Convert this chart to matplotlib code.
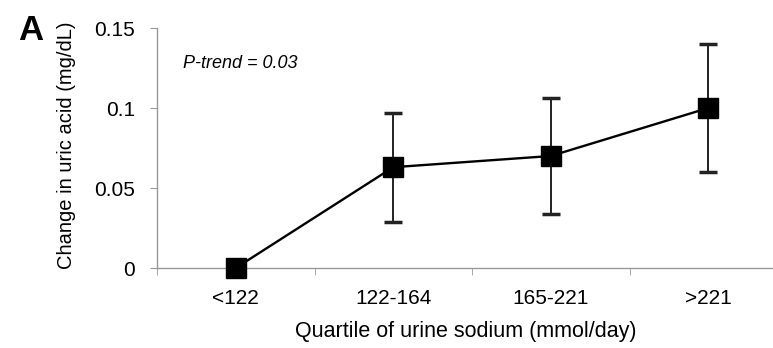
import matplotlib.pyplot as plt
import numpy as np

quartiles = ['<122', '122-164', '165-221', '>221']
change = [0.0, 0.063, 0.070, 0.100]
ci_low = [0.0, 0.029, 0.034, 0.060]
ci_high = [0.0, 0.097, 0.106, 0.140]

plt.rcParams['font.family'] = ['Liberation Sans', 'DejaVu Sans']

dpi = 100
fig = plt.figure(dpi=dpi, figsize=(773 / dpi, 348 / dpi))
ax = fig.add_axes([157 / 773, 80 / 348, 630 / 773, 240 / 348])

xs = np.arange(len(quartiles))
change = np.array(change)
yerr = np.array([change - np.array(ci_low), np.array(ci_high) - change])
has_err = yerr.sum(axis=0) > 0

ax.errorbar(xs[has_err], change[has_err], yerr=yerr[:, has_err], fmt='none',
            ecolor='#222222', elinewidth=1.4, capsize=6.5, capthick=2.5,
            zorder=2)
ax.plot(xs, change, color='black', linewidth=1.7, marker='s',
        markersize=14, markerfacecolor='black', zorder=3, clip_on=False)

ax.set_xlim(-0.5, 3.5)
ax.set_ylim(0, 0.15)
ax.set_yticks([0, 0.05, 0.1, 0.15])
ax.set_yticklabels(['0', '0.05', '0.1', '0.15'])
ax.set_xticks(xs)
ax.set_xticklabels(quartiles)
ax.set_xticks(np.arange(-0.5, 3.6, 1), minor=True)

for side in ['top', 'right']:
    ax.spines[side].set_visible(False)
for side in ['left', 'bottom']:
    ax.spines[side].set_color('#999999')
    ax.spines[side].set_linewidth(1.0)

ax.tick_params(axis='x', which='major', length=0, labelsize=15, pad=15)
ax.tick_params(axis='x', which='minor', length=5, color='#999999',
               direction='out')
ax.tick_params(axis='y', length=5, color='#999999', labelsize=15, pad=11)

ax.set_xlabel('Quartile of urine sodium (mmol/day)', fontsize=15.5)
ax.xaxis.set_label_coords(0.49, -0.22)
ax.set_ylabel('Change in uric acid (mg/dL)', fontsize=14.5)
ax.yaxis.set_label_coords(-0.128, 0.51)

ax.text(183 / 773, 1 - 68 / 348, 'P-trend = 0.03', transform=fig.transFigure,
        fontsize=13, style='italic')
fig.text(18 / 773, 1 - 40 / 348, 'A', fontsize=25, fontweight='bold')

fig.savefig('out.png', dpi=dpi)
